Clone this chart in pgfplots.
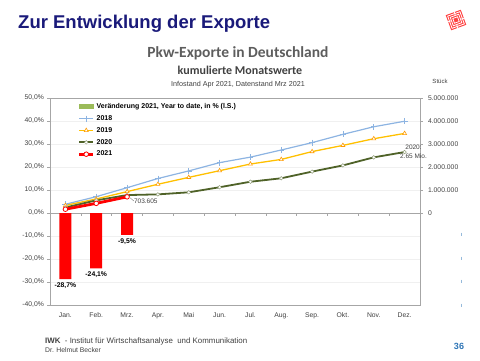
\documentclass[border=0pt]{standalone}
\usepackage{pgfplots}
\pgfplotsset{compat=1.18}
\usepackage{fontspec}
\setmainfont{Liberation Sans}
\newfontfamily\calibri{Carlito}
\definecolor{navy}{HTML}{1A1A7A}
\definecolor{c18}{HTML}{8DB4E2}
\definecolor{c19}{HTML}{FFC000}
\definecolor{c20}{HTML}{4F6228}
\definecolor{c21}{HTML}{FF0000}
\definecolor{barleg}{HTML}{9BBB59}
\definecolor{axgray}{HTML}{A6A6A6}
\definecolor{txtgray}{HTML}{404040}
\definecolor{pgblue}{HTML}{2E75B6}

\pgfplotstableread{
x v
0 -28.7
1 -24.1
2 -9.5
}\bars
\pgfplotstableread{
x y
0 380000
1 710000
2 1100000
3 1500000
4 1830000
5 2190000
6 2430000
7 2740000
8 3060000
9 3420000
10 3750000
11 3990000
}\ya
\pgfplotstableread{
x y
0 330000
1 610000
2 930000
3 1250000
4 1550000
5 1840000
6 2130000
7 2330000
8 2670000
9 2940000
10 3230000
11 3460000
}\yb
\pgfplotstableread{
x y
0 240000
1 550000
2 780000
3 810000
4 900000
5 1120000
6 1360000
7 1510000
8 1800000
9 2070000
10 2420000
11 2650000
}\yc
\pgfplotstableread{
x y
0 165000
1 420000
2 703605
}\yd

\begin{document}
\begin{tikzpicture}
\path[use as bounding box] (0pt,0pt) rectangle (480pt,-360pt);
% titles
\node[anchor=base west, inner sep=0, text=navy, font=\fontsize{18.5}{20}\selectfont\bfseries] at (18pt,-28pt) {Zur Entwicklung der Exporte};
\node[anchor=base, inner sep=0, text=txtgray!85, font=\calibri\fontsize{15.5}{17}\selectfont\bfseries] at (238pt,-57pt) {Pkw-Exporte in Deutschland};
\node[anchor=base, inner sep=0, text=txtgray, font=\calibri\fontsize{12}{13}\selectfont\bfseries] at (240pt,-74pt) {kumulierte Monatswerte};
\node[anchor=base, inner sep=0, text=txtgray, font=\fontsize{7.2}{8}\selectfont] at (238pt,-86pt) {Infostand Apr 2021, Datenstand Mrz 2021};
\node[anchor=base, inner sep=0, text=txtgray, font=\fontsize{6}{7}\selectfont] at (440pt,-83pt) {Stück};
% logo
\begin{scope}[shift={(456pt,-20pt)}, rotate=20]
\fill[red!75] (-8pt,-8pt) rectangle (8pt,8pt);
\foreach \s in {6.5,4.5,2.5}{\draw[white, line width=0.8pt] (-\s pt,-\s pt) rectangle (\s pt,\s pt);}
\draw[white, line width=0.8pt] (-8pt,1pt) -- (-5pt,1pt) (8pt,-1pt) -- (5pt,-1pt) (1pt,8pt) -- (1pt,5pt) (-1pt,-8pt) -- (-1pt,-5pt);
\end{scope}
% small marks at the right edge
\foreach \yy in {234,258,281,305}{\draw[pgblue!50, line width=0.6pt] (461pt,-\yy pt+1.5pt) -- (461pt,-\yy pt-1.5pt);}
% footer
\node[anchor=base west, inner sep=0, text=txtgray, font=\fontsize{7.9}{9}\selectfont] at (45pt,-343pt) {\textbf{IWK} \ - Institut für Wirtschaftsanalyse \ und Kommunikation};
\node[anchor=base west, inner sep=0, text=txtgray, font=\fontsize{6.8}{7}\selectfont] at (45pt,-352pt) {Dr. Helmut Becker};
\node[anchor=base, inner sep=0, text=pgblue, font=\fontsize{9}{10}\selectfont\bfseries] at (459pt,-349pt) {36};

% left axis with bars
\begin{axis}[
  at={(50pt,-305pt)}, anchor=south west,
  width=370pt, height=207pt, scale only axis,
  xmin=-0.5, xmax=11.5, ymin=-40, ymax=50,
  axis line style={axgray},
  xtick={0,...,11},
  xticklabels={Jan.,Feb.,Mrz.,Apr.,Mai,Jun.,Jul.,Aug.,Sep.,Okt.,Nov.,Dez.},
  x tick label style={font=\fontsize{6.8}{7}\selectfont, text=txtgray, yshift=-2pt},
  major x tick style={draw=none},
  ytick={-40,-30,...,50},
  y tick label style={font=\fontsize{6.8}{7}\selectfont, text=txtgray},
  yticklabel={\pgfmathprintnumber[fixed,fixed zerofill,precision=1,use comma]{\tick}\%},
  /pgf/number format/assume math mode=true,
  ytick pos=left, y tick style={axgray}, tick align=outside, major tick length=2.5pt,
  ymajorgrids, grid style={gray!12, line width=0.4pt},
  clip=false,
]
\draw[axgray] (axis cs:-0.5,0) -- (axis cs:11.5,0);
\pgfplotsinvokeforeach{0.5,1.5,2.5,3.5,4.5,5.5,6.5,7.5,8.5,9.5,10.5}{\draw[axgray] (axis cs:#1,0) -- ++(0pt,-2.5pt);}
\addplot[ybar, bar width=12pt, fill=c21, draw=none,
  nodes near coords={\pgfmathprintnumber[fixed,fixed zerofill,precision=1,use comma]{\pgfplotspointmeta}\%},
  nodes near coords style={font=\fontsize{6.8}{7}\selectfont\bfseries, text=black, /pgf/number format/assume math mode=true},
  point meta=explicit] table[x=x, y=v, meta=v] {\bars};
\end{axis}

% right axis with lines
\begin{axis}[
  at={(50pt,-305pt)}, anchor=south west,
  width=370pt, height=207pt, scale only axis,
  xmin=-0.5, xmax=11.5, ymin=-4000000, ymax=5000000,
  axis x line=none,
  axis y line*=right,
  axis line style={axgray},
  ytick={0,1000000,2000000,3000000,4000000,5000000},
  scaled y ticks=false,
  yticklabel={\pgfmathprintnumber[fixed,precision=0,1000 sep={.}]{\tick}},
  /pgf/number format/assume math mode=true,
  y tick label style={font=\fontsize{6.8}{7}\selectfont, text=txtgray, xshift=2pt},
  y tick style={axgray}, tick align=outside, major tick length=2.5pt,
  clip=false,
  legend style={at={(0.072,0.99)}, anchor=north west, draw=none, fill=none,
    font=\fontsize{7}{7}\selectfont\bfseries, row sep=1.5pt, inner sep=1pt},
  legend cell align=left,
  legend image code/.code={\draw[mark repeat=2,mark phase=2,#1] plot coordinates {(0pt,0pt) (7pt,0pt) (14pt,0pt)};},
]
\addlegendimage{legend image code/.code={\fill[barleg] (0pt,-2pt) rectangle (14pt,2pt);}}
\addlegendentry{Veränderung 2021, Year to date, in \% (l.S.)}
\addplot[c18, line width=1.2pt, mark=+, mark size=3pt, mark options={line width=0.8pt}] table[x=x,y=y] {\ya};
\addlegendentry{2018}
\addplot[c19, line width=1.3pt, mark=triangle*, mark size=2.3pt, mark options={fill=white, draw=c19!80!red, line width=0.6pt}] table[x=x,y=y] {\yb};
\addlegendentry{2019}
\addplot[c20, line width=1.8pt, mark=*, mark size=1.8pt, mark options={fill=white, draw=c20!60, line width=0.5pt}] table[x=x,y=y] {\yc};
\addlegendentry{2020}
\addplot[c21, line width=2.8pt, mark=*, mark size=2.3pt, mark options={fill=white, draw=c21, line width=0.8pt}] table[x=x,y=y] {\yd};
\addlegendentry{2021}
\draw[gray, line width=0.4pt] (axis cs:2.1,660000) -- (axis cs:2.22,520000);
\node[anchor=west, inner sep=0, text=txtgray, font=\fontsize{6.5}{7}\selectfont] at (axis cs:2.22,520000) {703.605};
\node[anchor=west, inner sep=0, text=txtgray, font=\fontsize{6.5}{7}\selectfont] at (axis cs:11.02,2870000) {2020:};
\node[anchor=west, inner sep=0, text=txtgray, font=\fontsize{6.5}{7}\selectfont] at (axis cs:10.85,2480000) {2.65 Mio.};
\end{axis}
\end{tikzpicture}
\end{document}
